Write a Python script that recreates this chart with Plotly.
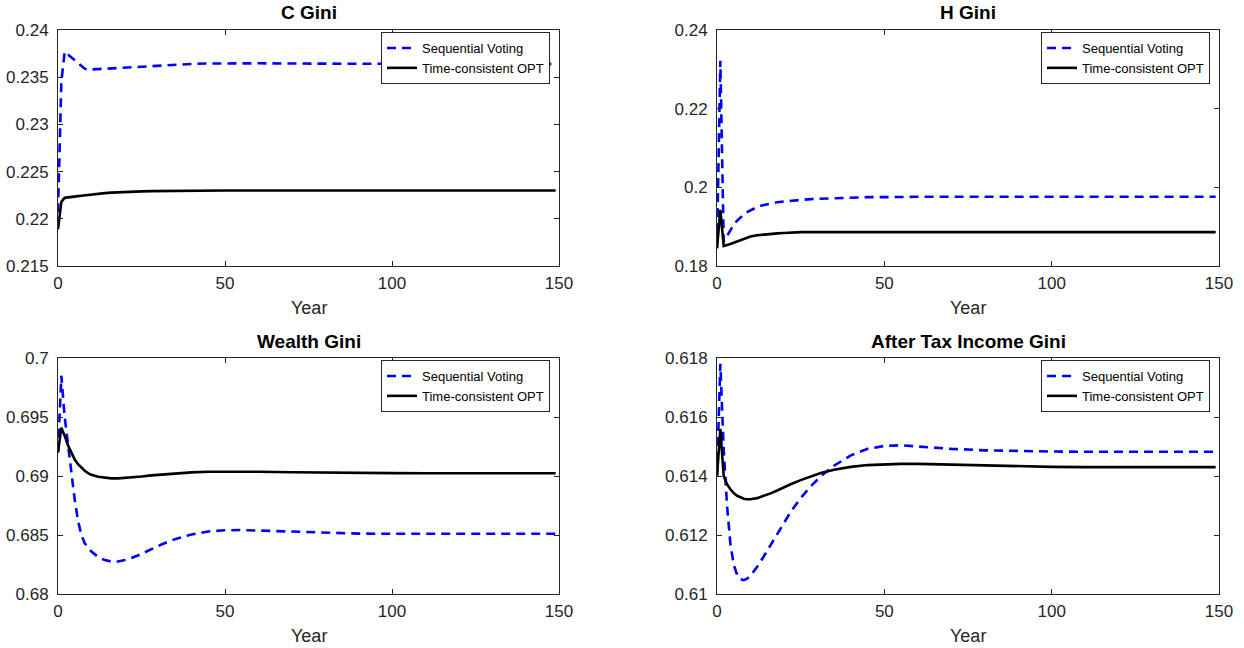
import plotly.graph_objects as go

W, H = 1244, 648

years = [0, 1, 2, 3, 4, 5, 6, 7, 8, 9, 10, 12, 14, 16, 18, 20, 22, 25, 28, 31, 35, 40,
         45, 50, 55, 60, 70, 80, 90, 100, 110, 120, 130, 140, 149]

c_seq = [0.2207, 0.2345, 0.2377, 0.2374, 0.2371, 0.2368, 0.2365, 0.2362, 0.2359, 0.2358,
         0.23582, 0.23586, 0.2359, 0.23595, 0.2360, 0.23605, 0.2361, 0.23615, 0.2362, 0.23628,
         0.23635, 0.2364, 0.23645, 0.23648, 0.23648, 0.23647, 0.23645, 0.23642, 0.2364, 0.2364,
         0.2364, 0.2364, 0.2364, 0.2364, 0.2364]
c_opt = [0.2189, 0.2218, 0.22222, 0.22225, 0.2223, 0.22235, 0.2224, 0.22245, 0.2225, 0.22255,
         0.2226, 0.22266, 0.22272, 0.22277, 0.22281, 0.22284, 0.22287, 0.2229, 0.22293, 0.22295,
         0.22297, 0.22299, 0.2230, 0.2230, 0.2230, 0.2230, 0.2230, 0.2230, 0.2230, 0.2230,
         0.2230, 0.2230, 0.2230, 0.2230, 0.2230]

h_seq = [0.1848, 0.2322, 0.1862, 0.1877, 0.1892, 0.1905, 0.1915, 0.1924, 0.1931, 0.1937,
         0.1942, 0.1950, 0.1955, 0.1959, 0.1962, 0.1964, 0.1966, 0.1968, 0.1970, 0.1971,
         0.1973, 0.1974, 0.1975, 0.1975, 0.1976, 0.1976, 0.1976, 0.1976, 0.1976, 0.1976,
         0.1976, 0.1976, 0.1976, 0.1976, 0.1976]
h_opt = [0.1845, 0.1943, 0.1851, 0.1853, 0.1856, 0.1859, 0.1862, 0.1866, 0.1870, 0.1873,
         0.1875, 0.1878, 0.1880, 0.1881, 0.1883, 0.1884, 0.1885, 0.1886, 0.1886, 0.1886,
         0.1886, 0.1886, 0.1886, 0.1886, 0.1886, 0.1886, 0.1886, 0.1886, 0.1886, 0.1886,
         0.1886, 0.1886, 0.1886, 0.1886, 0.1886]

w_seq = [0.6920, 0.6985, 0.6950, 0.6926, 0.6902, 0.6880, 0.6862, 0.6850, 0.6843, 0.6839,
         0.6836, 0.68315, 0.68287, 0.68275, 0.68276, 0.68288, 0.68305, 0.6834, 0.6838, 0.6842,
         0.68465, 0.68505, 0.6853, 0.6854, 0.68542, 0.68538, 0.68528, 0.68518, 0.68512, 0.6851,
         0.6851, 0.6851, 0.6851, 0.6851, 0.6851]
w_opt = [0.6920, 0.6941, 0.6934, 0.6926, 0.6920, 0.6914, 0.6910, 0.6907, 0.69045, 0.69025,
         0.6901, 0.68993, 0.68984, 0.6898, 0.6898, 0.68983, 0.68988, 0.68996, 0.69005, 0.69013,
         0.69022, 0.69031, 0.69036, 0.69038, 0.69038, 0.69036, 0.69032, 0.69028, 0.69025, 0.69024,
         0.69023, 0.69023, 0.69023, 0.69023, 0.69023]

t_seq = [0.6140, 0.6178, 0.6149, 0.6130, 0.6117, 0.6110, 0.61065, 0.6105, 0.61047, 0.61052,
         0.61062, 0.61092, 0.61128, 0.61166, 0.61205, 0.61243, 0.61278, 0.61325, 0.61365, 0.61399,
         0.61435, 0.6147, 0.61492, 0.61502, 0.61504, 0.615, 0.61492, 0.61487, 0.61484, 0.61483,
         0.61482, 0.61482, 0.61482, 0.61482, 0.61482]
t_opt = [0.6140, 0.6156, 0.6140, 0.61372, 0.61355, 0.61342, 0.61333, 0.61327, 0.61323, 0.61321,
         0.61321, 0.61325, 0.61332, 0.61341, 0.61351, 0.61362, 0.61372, 0.61386, 0.61399, 0.6141,
         0.61421, 0.61431, 0.61437, 0.6144, 0.61441, 0.61441, 0.61438, 0.61435, 0.61432, 0.61431,
         0.6143, 0.6143, 0.6143, 0.6143, 0.6143]

titles = ["C Gini", "H Gini", "Wealth Gini", "After Tax Income Gini"]
series_names = ["Sequential Voting", "Time-consistent OPT"]
x_ticks = [0, 50, 100, 150]
x_ticktext = ["0", "50", "100", "150"]
y_ticks = [
    [0.215, 0.22, 0.225, 0.23, 0.235, 0.24],
    [0.18, 0.2, 0.22, 0.24],
    [0.68, 0.685, 0.69, 0.695, 0.7],
    [0.61, 0.612, 0.614, 0.616, 0.618],
]
y_ticktext = [
    ["0.215", "0.22", "0.225", "0.23", "0.235", "0.24"],
    ["0.18", "0.2", "0.22", "0.24"],
    ["0.68", "0.685", "0.69", "0.695", "0.7"],
    ["0.61", "0.612", "0.614", "0.616", "0.618"],
]
y_ranges = [[0.215, 0.24], [0.18, 0.24], [0.68, 0.70], [0.61, 0.618]]
data = [(c_seq, c_opt), (h_seq, h_opt), (w_seq, w_opt), (t_seq, t_opt)]

# panel pixel boxes: (left, right, top, bottom)
boxes = [(58, 559, 30, 266), (717, 1219, 30, 266), (58, 559, 358, 594), (717, 1219, 358, 594)]

FONT = "Liberation Sans, Arial, Helvetica, sans-serif"
AX = "#262626"

fig = go.Figure()
layout = dict(
    width=W, height=H,
    margin=dict(l=0, r=0, t=0, b=0, pad=0, autoexpand=False),
    paper_bgcolor="white", plot_bgcolor="white",
    font=dict(family=FONT, color=AX),
    annotations=[],
)

for i in range(4):
    sfx = "" if i == 0 else str(i + 1)
    xa, ya = "x" + sfx, "y" + sfx
    leg = "legend" + sfx
    seq, opt = data[i]
    fig.add_trace(go.Scatter(x=years, y=seq, mode="lines", name=series_names[0],
                             line=dict(color="#0000FF", width=2.6, dash="9px,6px"),
                             xaxis=xa, yaxis=ya, legend=leg))
    fig.add_trace(go.Scatter(x=years, y=opt, mode="lines", name=series_names[1],
                             line=dict(color="#000000", width=2.6),
                             xaxis=xa, yaxis=ya, legend=leg))
    l, r, t, b = boxes[i]
    common = dict(showline=True, linecolor=AX, linewidth=1, mirror="ticks",
                  ticks="inside", ticklen=5, tickcolor=AX, tickwidth=1,
                  showgrid=False, zeroline=False, automargin=False,
                  tickfont=dict(family=FONT, size=17, color=AX))
    layout["xaxis" + sfx] = dict(common, domain=[l / W, r / W], range=[0, 150],
                                 tickvals=x_ticks, ticktext=x_ticktext,
                                 anchor=ya, ticklabelstandoff=2)
    layout["yaxis" + sfx] = dict(common, domain=[1 - b / H, 1 - t / H], range=y_ranges[i],
                                 tickvals=y_ticks[i], ticktext=y_ticktext[i],
                                 anchor=xa, ticklabelstandoff=5)
    layout[leg] = dict(x=(r - 9) / W, y=1 - (t + 2) / H, xanchor="right", yanchor="top",
                       bgcolor="white", bordercolor=AX, borderwidth=1,
                       font=dict(family=FONT, size=13, color="#000000"),
                       tracegroupgap=0, itemwidth=30)
    layout["annotations"].append(dict(text="<b>" + titles[i] + "</b>", x=(l + r) / 2 / W,
                                      y=1 - (t - 17) / H, xref="paper", yref="paper",
                                      xanchor="center", yanchor="middle", showarrow=False,
                                      font=dict(family=FONT, size=19, color="#000000")))
    layout["annotations"].append(dict(text="Year", x=(l + r) / 2 / W,
                                      y=1 - (b + 42) / H, xref="paper", yref="paper",
                                      xanchor="center", yanchor="middle", showarrow=False,
                                      font=dict(family=FONT, size=18, color=AX)))

fig.update_layout(**layout)
fig.write_html("out.html", post_script="document.body.style.margin='0';")
